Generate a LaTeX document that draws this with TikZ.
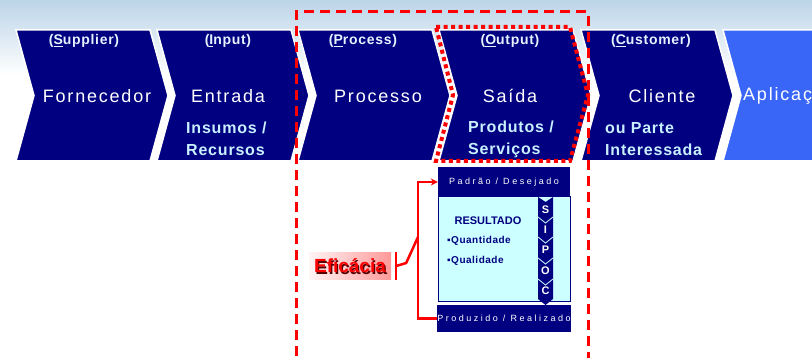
\documentclass[tikz,border=0pt]{standalone}
\usepackage{fontspec}
\setmainfont{Liberation Sans}
\newfontfamily\wide[LetterSpace=10]{Liberation Sans}
\newfontfamily\semi[LetterSpace=5]{Liberation Sans}
\newfontfamily\vwide[LetterSpace=28]{Liberation Sans}
\usetikzlibrary{arrows.meta,shadings}
\definecolor{navy}{HTML}{000080}
\definecolor{brightblue}{HTML}{3A66F8}
\definecolor{lightcyan}{HTML}{CCFFFF}
\definecolor{txtcyan}{HTML}{C8F0FF}
\definecolor{titlecol}{HTML}{E6F2FF}
\definecolor{skyband}{HTML}{BCD4E8}
\tikzset{
  chev/.style={fill=navy, draw=white, line width=1.5},
  ttl/.style={text=titlecol, font=\semi\bfseries\fontsize{14}{16}\selectfont, inner sep=0},
  mainlbl/.style={text=white, font=\wide\fontsize{18}{20}\selectfont, inner sep=0},
  sublbl/.style={text=txtcyan, font=\semi\bfseries\fontsize{16}{22}\selectfont, align=left, anchor=west, inner sep=0},
  barbox/.style={fill=navy, minimum width=132, minimum height=29, inner sep=0, text=white, font=\vwide\fontsize{9}{10}\selectfont},
  restxt/.style={text=navy, font=\semi\bfseries\fontsize{10}{12}\selectfont, inner sep=0},
  sipoc/.style={text=white, font=\bfseries\fontsize{11}{12}\selectfont, inner sep=0},
  redline/.style={draw=red, line width=2.5},
}
\begin{document}
\begin{tikzpicture}[x=1pt,y=-1pt]
\useasboundingbox (0,0) rectangle (812,358);
\clip (0,0) rectangle (812,358);
\fill[white] (0,0) rectangle (812,358);
\shade[top color=skyband, bottom color=white] (0,0) rectangle (812,75);
% chevrons
\foreach \x in {16,157,298,439,581}
  \path[chev] (\x,30) -- ++(134,0) -- ++(18,65.5) -- ++(-18,65.5) -- ++(-134,0) -- ++(18,-65.5) -- cycle;
\path[chev, fill=brightblue] (723,30) -- (830,30) -- (830,161) -- (723,161) -- (741,95.5) -- cycle;
% titles
\node[ttl] (supT) at (84,41) {(\underline{S}upplier)};
\node[ttl] (inpT) at (228,41) {(\underline{I}nput)};
\node[ttl] (proT) at (363,41) {(\underline{P}rocess)};
\node[ttl] (outT) at (510,41) {(\underline{O}utput)};
\node[ttl] (cusT) at (651,41) {(\underline{C}ustomer)};
% main labels
\node[mainlbl] (supM) at (97,96) {Fornecedor};
\node[mainlbl] (inpM) at (228,96) {Entrada};
\node[mainlbl] (proM) at (378,96) {Processo};
\node[mainlbl] (outM) at (510,96) {Saída};
\node[mainlbl] (cusM) at (662,96) {Cliente};
\node[mainlbl, anchor=west] (aplM) at (743,96) {Aplicação};
% sub labels
\node[sublbl] (inpS) at (186,139) {Insumos /\\Recursos};
\node[sublbl] (outS) at (468,139) {Produtos /\\Serviços};
\node[sublbl] (cusS) at (605,139) {ou Parte\\Interessada};
% result box
\node[barbox] (padrao) at (504,182) {Padrão / Desejado};
\node[draw=navy, fill=lightcyan, line width=1, minimum width=132, minimum height=105, inner sep=0] (res) at (504,249) {};
\node[barbox, minimum height=27] (realiz) at (504,318.5) {Produzido / Realizado};
\node[restxt, font=\bfseries\fontsize{11}{12}\selectfont] (resT) at (488,221) {RESULTADO};
\node[restxt, anchor=west] (quant) at (447,241) {▪Quantidade};
\node[restxt, anchor=west] (qual) at (447,261) {▪Qualidade};
% SIPOC strip
\fill[navy] (538,197) -- (545.5,202) -- (553,197) -- (553,299) -- (545.5,305) -- (538,299) -- cycle;
\foreach \b in {220,240,261,282}
  \draw[lightcyan, line width=0.8] (538,\b-3) -- (545.5,\b+3) -- (553,\b-3);
\node[sipoc] (sS) at (545.5,210) {S};
\node[sipoc] (sI) at (545.5,230) {I};
\node[sipoc] (sP) at (545.5,250) {P};
\node[sipoc] (sO) at (545.5,271) {O};
\node[sipoc] (sC) at (545.5,291) {C};
% Eficacia
\node[left color=red!4, right color=red!40, minimum width=82, minimum height=27, inner sep=0] (efic) at (350,266) {};
\node[text=red!35!black, font=\bfseries\fontsize{19}{20}\selectfont, inner sep=0] (efsh) at (351.3,267.3) {Eficácia};
\node[text=red, font=\bfseries\fontsize{19}{20}\selectfont, inner sep=0] (eftx) at (350,266) {Eficácia};
% bracket connectors
\coordinate (spine) at (418,237);
\draw[redline] ([xshift=5pt]efic.north east) -- ([xshift=5pt]efic.south east);
\draw[redline] ([xshift=5pt]efic.east) -- ++(10,-3) -- (spine);
\draw[redline, -{Stealth[length=7pt,width=7pt]}] (spine) |- (padrao.west);
\draw[redline] (spine) |- (realiz.west);
% red outlines
\draw[red, line width=3, dash pattern=on 10pt off 6pt] (296,372) -- (296,12) -- (588,12) -- (588,372);
\draw[red, line width=4, dash pattern=on 4pt off 3.5pt] (436,27) -- (570,27) -- (588,95) -- (570,161) -- (436,161) -- (453,95) -- cycle;
\end{tikzpicture}
\end{document}
